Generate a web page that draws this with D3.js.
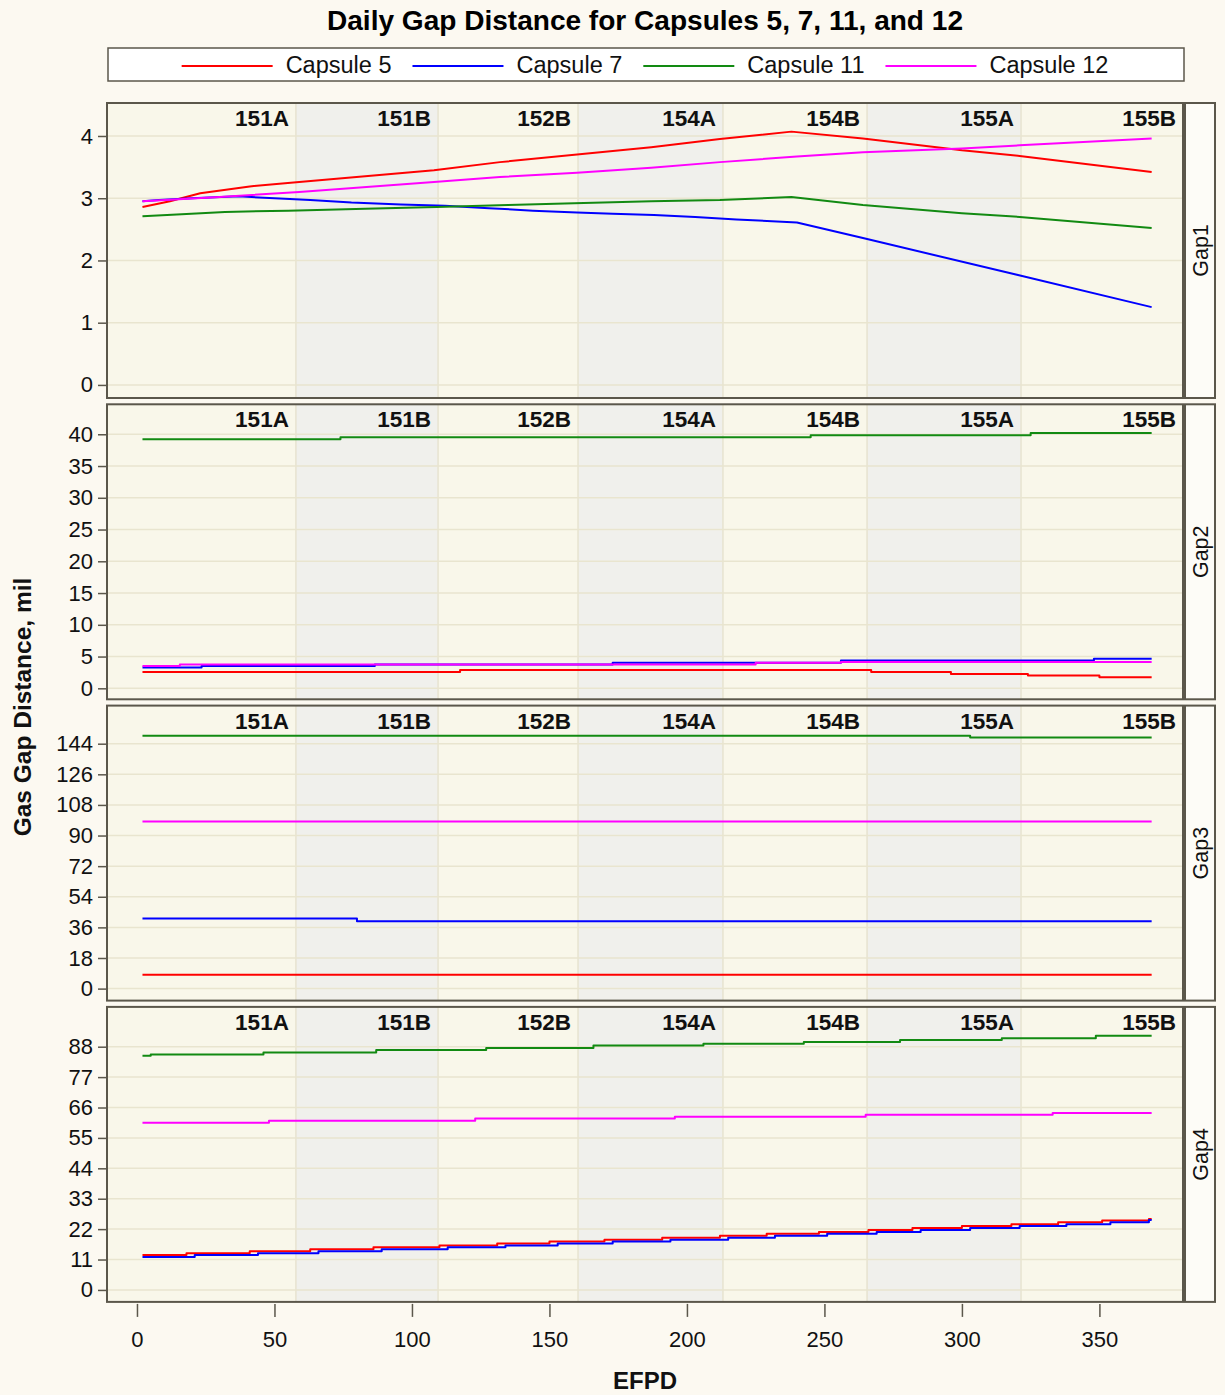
<!DOCTYPE html>
<html><head><meta charset="utf-8">
<script src="https://cdn.jsdelivr.net/npm/d3@7"></script>
<style>
body{margin:0;background:#fcf9f1;}
svg{display:block;font-family:"Liberation Sans",Arial,Helvetica,sans-serif;}
</style></head><body>
<svg id="chart" width="1225" height="1395"></svg>
<script>
// ---------------- DATA ----------------
const capsules = ["Capsule 5", "Capsule 7", "Capsule 11", "Capsule 12"];
const panelNames = ["Gap1", "Gap2", "Gap3", "Gap4"];
const cycles = ["151A", "151B", "152B", "154A", "154B", "155A", "155B"];
const cycleEnds = [57.8, 109.5, 160.4, 213.1, 265.5, 321.5, 380.4];
const xTicks = [0, 50, 100, 150, 200, 250, 300, 350];
const yTicksGap1 = [0, 1, 2, 3, 4];
const yTicksGap2 = [0, 5, 10, 15, 20, 25, 30, 35, 40];
const yTicksGap3 = [0, 18, 36, 54, 72, 90, 108, 126, 144];
const yTicksGap4 = [0, 11, 22, 33, 44, 55, 66, 77, 88];

// Gap1 [EFPD, mil]
const gap1_c5 = [[2,2.86],[12,2.95],[23,3.08],[41,3.19],[59,3.26],[108,3.45],[132,3.58],[187,3.82],[212,3.95],[238,4.07],[264,3.96],[300,3.77],[321,3.68],[369,3.42]];
const gap1_c7 = [[2,2.95],[8,2.97],[20,3.0],[37,3.03],[63,2.97],[78,2.93],[96,2.90],[112,2.88],[128,2.84],[144,2.80],[160,2.77],[173,2.75],[188,2.73],[203,2.70],[218,2.66],[240,2.61],[264,2.36],[320,1.77],[369,1.25]];
const gap1_c11 = [[2,2.71],[14.5,2.74],[32,2.78],[55,2.80],[83,2.83],[109,2.86],[135,2.89],[159,2.92],[187,2.95],[212,2.97],[238,3.02],[264,2.89],[300,2.76],[321,2.70],[369,2.52]];
const gap1_c12 = [[2,2.95],[30,3.02],[59,3.10],[108,3.26],[132,3.34],[160,3.41],[187,3.49],[212,3.58],[240,3.67],[264,3.74],[300,3.80],[321,3.85],[369,3.96]];

// Gap2
const gap2_c5 = [[2,2.57],[117.5,2.88],[267,2.57],[296,2.25],[324,2.0],[350,1.73],[369,1.73]];
const gap2_c7 = [[2,3.26],[23.5,3.5],[86.5,3.73],[173,4.03],[256,4.36],[348,4.67],[369,4.67]];
const gap2_c11 = [[2,39.2],[74,39.55],[245,39.85],[325,40.2],[369,40.2]];
const gap2_c12 = [[2,3.5],[15.6,3.73],[225,4.03],[256,4.14],[369,4.14]];

// Gap3
const gap3_c5 = [[2,8.2],[369,8.2]];
const gap3_c7 = [[2,41.2],[80,39.6],[369,39.6]];
const gap3_c11 = [[2,148.7],[303,147.6],[369,147.6]];
const gap3_c12 = [[2,98.2],[369,98.2]];

// Gap4
const gap4_c5 = [[2,12.6],[18,13.3],[41,14.0],[63,14.7],[86,15.4],[110,16.1],[131,16.8],[150,17.5],[170,18.2],[191,18.9],[212,19.6],[229,20.3],[248,21.0],[266,21.7],[282,22.4],[300,23.1],[318,23.8],[335,24.5],[351,25.1],[368,25.7],[369,25.7]];
const gap4_c7 = [[2,11.9],[21,12.6],[44,13.3],[66,14.0],[89,14.7],[113,15.4],[134,16.1],[153,16.8],[173,17.5],[194,18.2],[215,18.9],[232,19.6],[251,20.3],[269,21.0],[285,21.7],[303,22.4],[321,23.1],[338,23.8],[354,24.5],[368,25.3],[369,25.3]];
const gap4_c11 = [[2,84.7],[5,85.2],[46,85.9],[87,86.8],[127,87.5],[166,88.4],[206,89.1],[242.5,89.7],[277.5,90.4],[314.5,91.1],[348.7,92.0],[369,92.0]];
const gap4_c12 = [[2,60.5],[48,61.2],[123,62.0],[195.6,62.7],[265,63.4],[333,64.0],[369,64.0]];

// ---------------- LAYOUT / STYLE ----------------
const colors = ["#ff0000", "#0000ff", "#128a12", "#ff00ff"];
const panelsCfg = [
  {name: panelNames[0], series: [gap1_c5, gap1_c7, gap1_c11, gap1_c12], ticks: yTicksGap1, domain: [-0.21, 4.53], curve: d3.curveLinear},
  {name: panelNames[1], series: [gap2_c5, gap2_c7, gap2_c11, gap2_c12], ticks: yTicksGap2, domain: [-1.73, 44.72], curve: d3.curveStepAfter},
  {name: panelNames[2], series: [gap3_c5, gap3_c7, gap3_c11, gap3_c12], ticks: yTicksGap3, domain: [-7.05, 166.4], curve: d3.curveStepAfter},
  {name: panelNames[3], series: [gap4_c5, gap4_c7, gap4_c11, gap4_c12], ticks: yTicksGap4, domain: [-4.33, 102.4], curve: d3.curveStepAfter}
];

const svg = d3.select("#chart");
const L = 107, R = 1183, stripW = 30;
const panelTop0 = 103, panelStep = 301.3, panelH = 295;
const frame = "#5b574b";
const textCol = "#111";

const x = d3.scaleLinear().domain([-10.9, 380.4]).range([L, R]);

svg.append("rect").attr("width", 1225).attr("height", 1395).attr("fill", "#fcf9f1");

// Title
svg.append("text").attr("x", (L + R) / 2).attr("y", 30).attr("text-anchor", "middle")
  .attr("font-weight", "bold").attr("font-size", 27).attr("fill", "#000")
  .attr("textLength", 636).attr("lengthAdjust", "spacingAndGlyphs")
  .text("Daily Gap Distance for Capsules 5, 7, 11, and 12");

// Legend
const lg = svg.append("g");
lg.append("rect").attr("x", L + 1).attr("y", 48).attr("width", R - L).attr("height", 33)
  .attr("fill", "#ffffff").attr("stroke", frame).attr("stroke-width", 1.5);
const items = lg.append("g");
let cx = 0;
capsules.forEach((c, i) => {
  const g = items.append("g").attr("transform", `translate(${cx},0)`);
  g.append("line").attr("x1", 0).attr("x2", 91).attr("y1", 66).attr("y2", 66)
    .attr("stroke", colors[i]).attr("stroke-width", 2);
  const t = g.append("text").attr("x", 104).attr("y", 73).attr("font-size", 23.5).attr("fill", textCol).text(c);
  cx += 104 + t.node().getComputedTextLength() + 21;
});
const totalW = cx - 21;
items.attr("transform", `translate(${(L + R) / 2 - totalW / 2},0)`);

panelsCfg.forEach((p, pi) => {
  const top = panelTop0 + pi * panelStep;
  const bot = top + panelH;
  const y = d3.scaleLinear().domain(p.domain).range([bot, top]);
  const g = svg.append("g");

  // bands
  cycles.forEach((c, j) => {
    const a = j === 0 ? x.domain()[0] : cycleEnds[j - 1];
    const b = Math.min(cycleEnds[j], x.domain()[1]);
    g.append("rect").attr("x", x(a)).attr("y", top).attr("width", x(b) - x(a)).attr("height", panelH)
      .attr("fill", j % 2 === 0 ? "#f9f7ea" : "#f0f0ec");
  });
  // band boundary lines
  cycleEnds.slice(0, -1).forEach(e => {
    g.append("line").attr("x1", x(e)).attr("x2", x(e)).attr("y1", top).attr("y2", bot)
      .attr("stroke", "#e7e3d0").attr("stroke-width", 1.5);
  });
  // horizontal grid
  p.ticks.forEach(t => {
    g.append("line").attr("x1", L).attr("x2", R).attr("y1", y(t)).attr("y2", y(t))
      .attr("stroke", "#e9e5cf").attr("stroke-width", 1.5);
  });
  // cycle labels
  cycles.forEach((c, j) => {
    const b = Math.min(cycleEnds[j], x.domain()[1]);
    g.append("text").attr("x", x(b) - 7).attr("y", top + 23).attr("text-anchor", "end")
      .attr("font-weight", "bold").attr("font-size", 22.5).attr("fill", textCol).text(c);
  });
  // lines
  const line = d3.line().x(d => x(d[0])).y(d => y(d[1])).curve(p.curve);
  p.series.forEach((s, si) => {
    g.append("path").datum(s).attr("d", line).attr("fill", "none")
      .attr("stroke", colors[si]).attr("stroke-width", 2).attr("stroke-linejoin", "round");
  });
  // frame
  g.append("rect").attr("x", L).attr("y", top).attr("width", R - L).attr("height", panelH)
    .attr("fill", "none").attr("stroke", frame).attr("stroke-width", 2);
  // strip
  g.append("rect").attr("x", R + 2).attr("y", top).attr("width", stripW).attr("height", panelH)
    .attr("fill", "#fdfcf7").attr("stroke", frame).attr("stroke-width", 2);
  g.append("text").attr("transform", `translate(${R + 2 + stripW / 2 + 8},${top + panelH / 2}) rotate(-90)`)
    .attr("text-anchor", "middle").attr("font-size", 21.5).attr("fill", textCol).text(p.name);
  // y axis
  const ya = d3.axisLeft(y).tickValues(p.ticks).tickSize(8).tickPadding(5).tickFormat(d3.format("d"));
  const ag = svg.append("g").attr("transform", `translate(${L - 1},0)`).call(ya);
  ag.select(".domain").remove();
  ag.selectAll(".tick line").attr("stroke", frame).attr("stroke-width", 1.5);
  ag.selectAll(".tick text").attr("font-size", 22).attr("fill", textCol)
    .attr("font-family", "Liberation Sans, Arial, sans-serif");

  if (pi === panelsCfg.length - 1) {
    const xa = d3.axisBottom(x).tickValues(xTicks).tickSize(13).tickPadding(14).tickFormat(d3.format("d"));
    const xg = svg.append("g").attr("transform", `translate(0,${bot + 2})`).call(xa);
    xg.select(".domain").remove();
    xg.selectAll(".tick line").attr("stroke", frame).attr("stroke-width", 1.5);
    xg.selectAll(".tick text").attr("font-size", 22).attr("fill", textCol)
      .attr("font-family", "Liberation Sans, Arial, sans-serif");
  }
});

// axis titles
svg.append("text").attr("x", (L + R) / 2).attr("y", 1389).attr("text-anchor", "middle")
  .attr("font-weight", "bold").attr("font-size", 24).attr("fill", textCol).text("EFPD");
svg.append("text").attr("transform", `translate(31,707) rotate(-90)`).attr("text-anchor", "middle")
  .attr("font-weight", "bold").attr("font-size", 24.5).attr("fill", textCol).text("Gas Gap Distance, mil");
</script>
</body></html>
